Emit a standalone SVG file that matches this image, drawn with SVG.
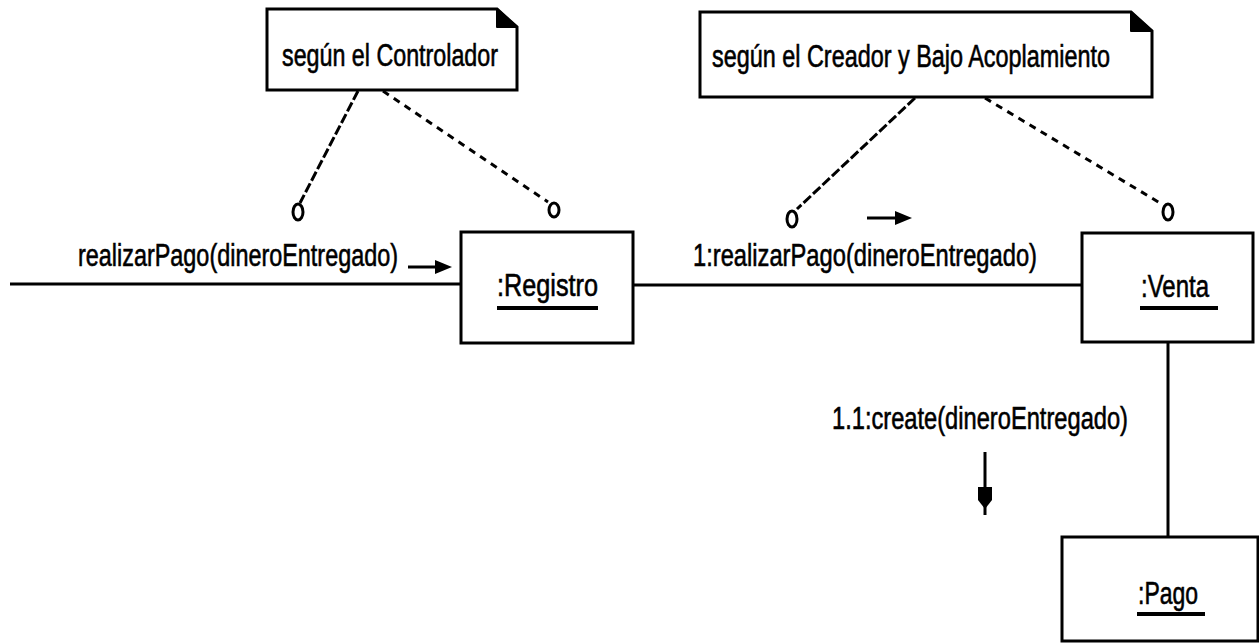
<svg xmlns="http://www.w3.org/2000/svg" width="1259" height="643" viewBox="0 0 1259 643">
  <style>
    .box { fill: #fff; stroke: #000; stroke-width: 3; }
    .fold { fill: #000; stroke: #000; stroke-width: 2; stroke-linejoin: round; }
    .link { stroke: #000; stroke-width: 3; fill: none; }
    .anchor1 { stroke: #000; stroke-width: 3; fill: none; stroke-dasharray: 10 3; }
    .anchor2 { stroke: #000; stroke-width: 3; fill: none; stroke-dasharray: 7 6; }
    .dot { fill: #fff; stroke: #000; stroke-width: 3; }
    .uline { stroke: #000; stroke-width: 4; }
    .lbl { font-family: "Liberation Sans", Arial, sans-serif; font-size: 31px; fill: #000; stroke: #000; stroke-width: 0.6; }
    .head { fill: #000; }
  </style>
  <rect width="1259" height="643" fill="#fff"/>

  <!-- notes -->
  <g id="note-controlador">
    <path class="box" d="M267,9 H497 L517,27 V90 H267 Z"/>
    <path class="fold" d="M497,9 L517,27 L497,27 Z"/>
    <text class="lbl" x="282" y="66" textLength="216" lengthAdjust="spacingAndGlyphs">según el Controlador</text>
  </g>

  <g id="note-creador">
    <path class="box" d="M700,12 H1131 L1152,31 V97 H700 Z"/>
    <path class="fold" d="M1131,12 L1152,31 L1131,31 Z"/>
    <text class="lbl" x="712" y="67" textLength="398" lengthAdjust="spacingAndGlyphs">según el Creador y Bajo Acoplamiento</text>
  </g>

  <!-- connectors -->
  <g id="connectors">
    <line class="link" x1="10" y1="284" x2="461" y2="284"/>
    <line class="link" x1="633" y1="285" x2="1082" y2="285"/>
    <line class="link" x1="1168" y1="342" x2="1168" y2="537"/>

    <!-- note anchors -->
    <line class="anchor1" x1="358" y1="91" x2="300" y2="203"/>
    <ellipse class="dot" cx="298" cy="212" rx="5" ry="8"/>
    <line class="anchor2" x1="383" y1="91" x2="548" y2="202"/>
    <ellipse class="dot" cx="554" cy="210" rx="5" ry="7"/>

    <line class="anchor1" x1="915" y1="98" x2="797" y2="209"/>
    <ellipse class="dot" cx="792" cy="219" rx="5" ry="8"/>
    <line class="anchor2" x1="985" y1="98" x2="1160" y2="203"/>
    <ellipse class="dot" cx="1168" cy="212" rx="5" ry="8"/>

    <!-- message arrows -->
    <line class="link" x1="408" y1="267" x2="438" y2="267"/>
    <polygon class="head" points="435,260 452,267 435,274"/>
    <line class="link" x1="867" y1="218" x2="898" y2="218"/>
    <polygon class="head" points="895,211 912,218 895,225"/>
    <line class="link" x1="985" y1="452" x2="985" y2="515"/>
    <polygon class="head" points="978,487 992,487 992,500 985,509 978,500"/>

    <!-- message labels -->
    <text class="lbl" x="78" y="266" textLength="320" lengthAdjust="spacingAndGlyphs">realizarPago(dineroEntregado)</text>
    <text class="lbl" x="693" y="266" textLength="344" lengthAdjust="spacingAndGlyphs">1:realizarPago(dineroEntregado)</text>
    <text class="lbl" x="832" y="429" textLength="296" lengthAdjust="spacingAndGlyphs">1.1:create(dineroEntregado)</text>
  </g>

  <!-- objects -->
  <g id="registro">
    <rect class="box" x="461" y="232" width="172" height="111"/>
    <text class="lbl" x="497" y="296" textLength="101" lengthAdjust="spacingAndGlyphs">:Registro</text>
    <line class="uline" x1="497" y1="308" x2="598" y2="308"/>
  </g>

  <g id="venta">
    <rect class="box" x="1082" y="233" width="171" height="109"/>
    <text class="lbl" x="1141" y="297" textLength="68" lengthAdjust="spacingAndGlyphs">:Venta</text>
    <line class="uline" x1="1140" y1="308" x2="1218" y2="308"/>
  </g>

  <g id="pago">
    <rect class="box" x="1062" y="537" width="196" height="104"/>
    <text class="lbl" x="1138" y="604" textLength="60" lengthAdjust="spacingAndGlyphs">:Pago</text>
    <line class="uline" x1="1137" y1="614" x2="1205" y2="614"/>
  </g>
</svg>
